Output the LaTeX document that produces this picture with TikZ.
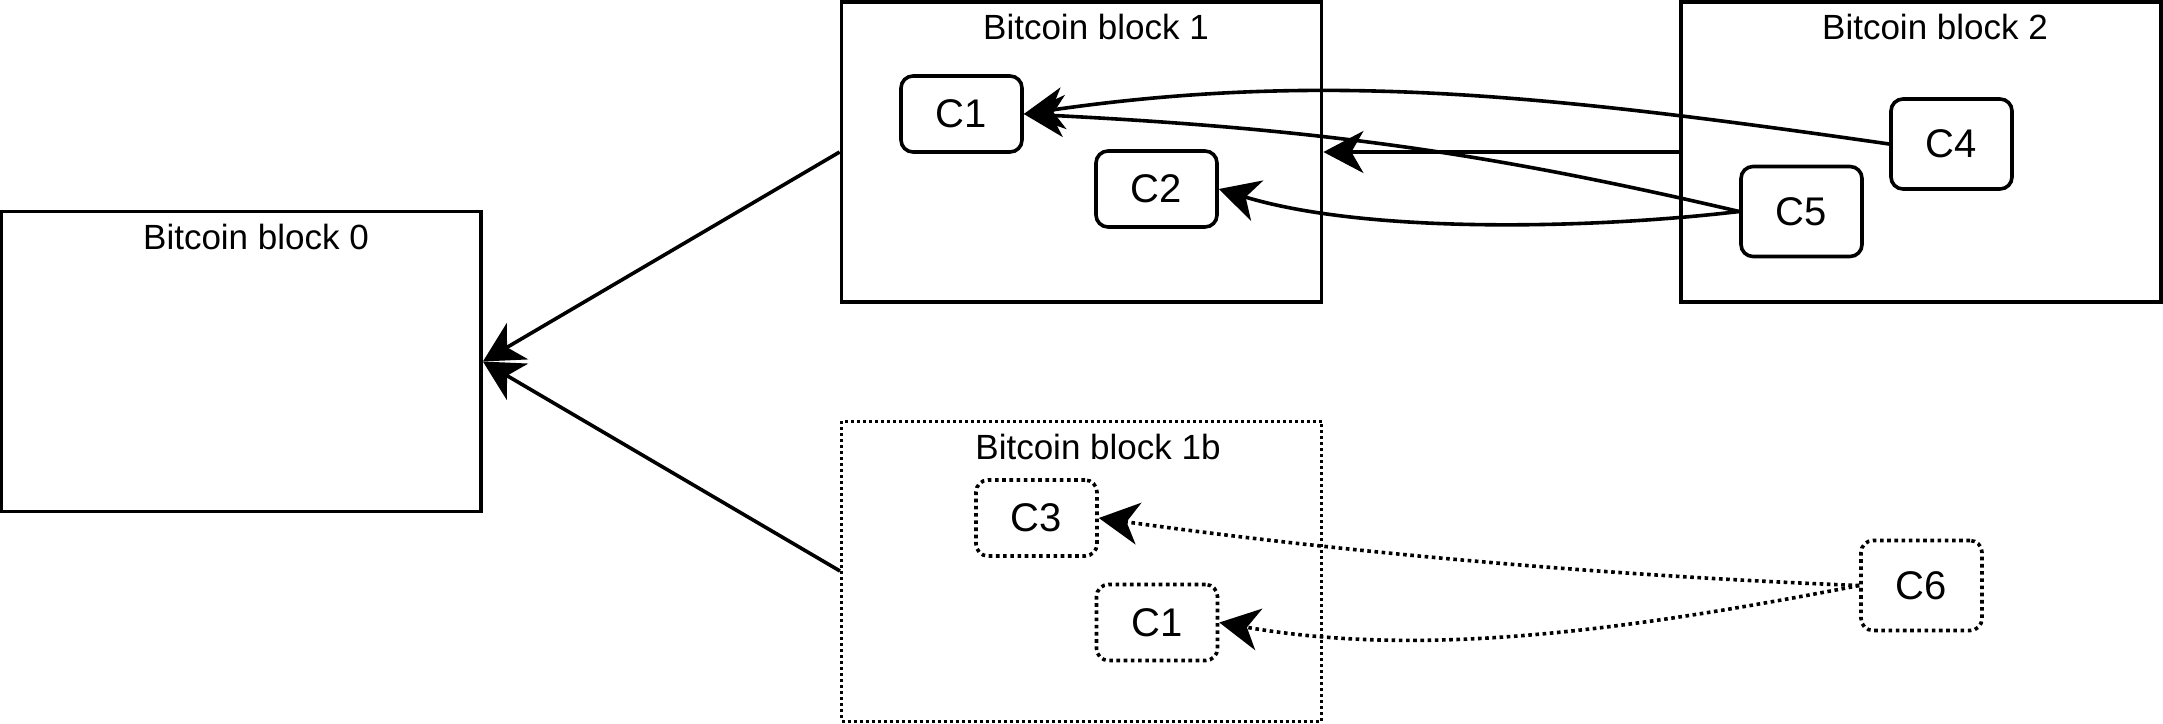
\documentclass[tikz,border=0pt]{standalone}
\usepackage{fontspec}
\setmainfont{Liberation Sans}
\usetikzlibrary{arrows.meta}
\begin{document}
\begin{tikzpicture}[x=0.5pt, y=-0.5pt,
  block/.style={draw, line width=1.9pt, minimum width=240pt, minimum height=150pt, inner sep=0pt},
  dotted block/.style={block, line width=1.5pt, dash pattern=on 1.5pt off 1.5pt},
  title/.style={anchor=base, inner sep=0pt, font=\fontsize{17.5}{21}\selectfont},
  tx/.style={draw, rounded corners=6pt, line width=1.8pt, minimum width=60.5pt, minimum height=38pt, inner sep=0pt, font=\fontsize{20}{24}\selectfont},
  tall/.style={minimum height=45pt},
  dotted tx/.style={tx, dash pattern=on 1.8pt off 1.8pt},
  link/.style={line width=1.8pt, -{Stealth[length=20pt, width=21pt, inset=6pt]}},
  dotted link/.style={link, dash pattern=on 1.8pt off 1.8pt}
]
\useasboundingbox (0,0) rectangle (2163,723);

% blocks
\node[block] (b0) at (241,361.5) {};
\node[block] (b1) at (1081.5,152) {};
\node[block] (b2) at (1921,152) {};
\node[dotted block] (b1b) at (1081.5,571) {};

% block titles
\node[title] (t0) at (256,249) {Bitcoin block 0};
\node[title] (t1) at (1096,39) {Bitcoin block 1};
\node[title] (t2) at (1935,39) {Bitcoin block 2};
\node[title] (t1b) at (1098,459) {Bitcoin block 1b};

% transactions
\node[tx] (c1) at (961.5,114) {C1};
\node[tx] (c2) at (1156.5,189) {C2};
\node[tx, tall] (c4) at (1951.5,144) {C4};
\node[tx, tall] (c5) at (1801.5,211.5) {C5};
\node[dotted tx] (c3) at (1036.5,518) {C3};
\node[dotted tx] (c1b) at (1157,622.5) {C1};
\node[dotted tx, tall] (c6) at (1921.5,585.5) {C6};

% block links
\draw[link] (b1.west) -- (b0.east);
\draw[link] (b1b.west) -- (b0.east);
\draw[link] (b2.west) -- (b1.east);

% transaction links
\draw[link] (c4.west) .. controls (1541,94) and (1322,71) .. (c1.east);
\draw[link] (c5.west) .. controls (1491,153.5) and (1322,129) .. (c1.east);
\draw[link] (c5.west) .. controls (1591,229) and (1367,234) .. (c2.east);
\draw[dotted link] (c6.west) .. controls (1611,576) and (1347,553) .. (c3.east);
\draw[dotted link] (c6.west) .. controls (1611,633.5) and (1417,657) .. (c1b.east);
\end{tikzpicture}
\end{document}
